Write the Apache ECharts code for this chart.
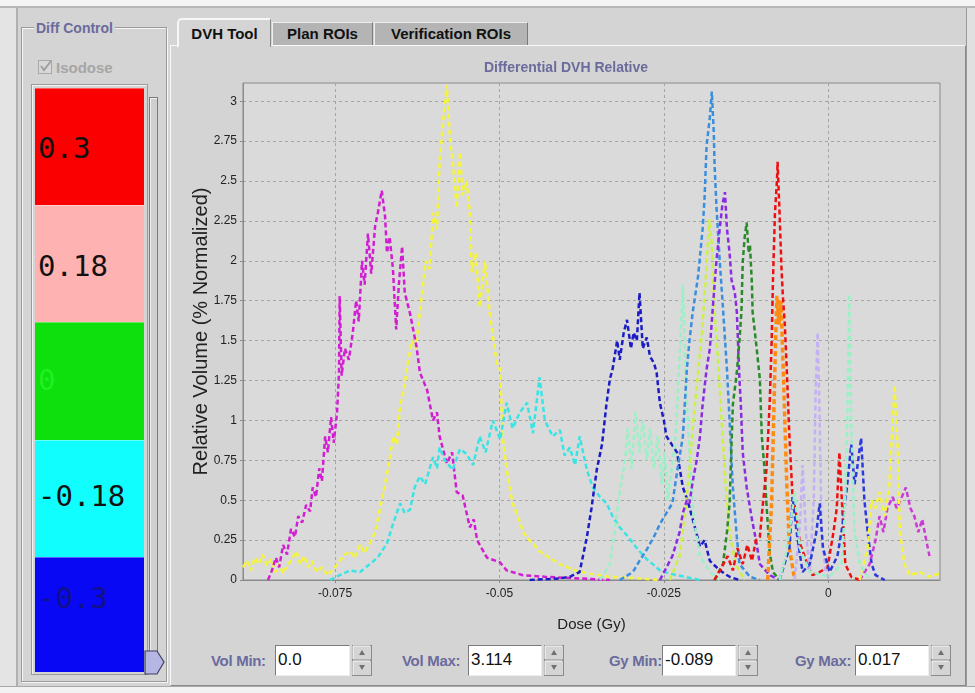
<!DOCTYPE html>
<html>
<head>
<meta charset="utf-8">
<script src="https://cdn.jsdelivr.net/npm/echarts@6/dist/echarts.min.js"></script>
<style>
  body { margin: 0; }
  #app { position: relative; width: 975px; height: 693px; background: #d4d4d4; overflow: hidden;
         font-family: "Liberation Sans", Arial, sans-serif; }
  .abs { position: absolute; box-sizing: border-box; }
  .lbl { font-weight: bold; color: #6b6b9d; font-size: 14px; }
  .tab { font-weight: bold; font-size: 15px; color: #111; text-align: center; }
  .field { background: #fff; border-top: 1px solid #7a7a7a; border-left: 1px solid #7a7a7a;
           border-bottom: 1px solid #eee; border-right: 1px solid #eee;
           font-family: "Liberation Sans Narrow", "Liberation Sans", Arial, sans-serif; font-size: 17px;
           padding: 4px 0 0 2px; color: #111; }
  .blk { font-family: "DejaVu Sans Mono", monospace; font-size: 29px; padding-left: 3px; }
  #chart { position: absolute; left: 0; top: 0; width: 975px; height: 693px; }
</style>
</head>
<body>
<div id="app">
  <div class="abs" style="left:0;top:0;width:975px;height:8px;background:#f4f4f4;border-bottom:2px solid #b8b8b8"></div>
  <div class="abs" style="left:0;top:8px;width:18px;height:685px;background:#e4e4e4;border-right:2px solid #b0b0b0"></div>
  <div class="abs" style="left:0;top:686px;width:975px;height:7px;background:#f2f2f2;border-top:1px solid #a8a8a8"></div>
  <div class="abs" style="left:966px;top:8px;width:9px;height:678px;background:#e0e0e0;border-left:1px solid #9a9a9a"></div>

  <!-- Diff Control -->
  <div class="abs" style="left:21px;top:27px;width:146px;height:655px;border:1px solid #9a9a9a;box-shadow:inset 1px 1px 0 #f6f6f6, 1px 1px 0 #f6f6f6"></div>
  <div class="abs lbl" style="left:34px;top:20px;padding:0 2px;background:#d4d4d4;font-size:14px">Diff Control</div>
  <div class="abs" style="left:38px;top:60px;width:14px;height:14px;border:1px solid #a8a8a8;background:#d8d8d8"></div>
  <svg class="abs" style="left:38px;top:58px" width="16" height="16"><polyline points="3,8 6,12 13,3" fill="none" stroke="#a0a0a0" stroke-width="2"/></svg>
  <div class="abs" style="left:56px;top:59px;font-weight:bold;font-size:15px;color:#a6a6a6">Isodose</div>
  <div class="abs" style="left:31px;top:84px;width:117px;height:591px;border:1px solid #9a9a9a;box-shadow:inset 1px 1px 0 #f4f4f4"></div>
  <div id="blocks"></div>
  <div class="abs" style="left:149px;top:97px;width:9px;height:576px;border:1px solid #7a7a7a;background:#cfcfcf;box-shadow:inset 1px 1px 0 #f0f0f0"></div>
  <svg class="abs" style="left:143px;top:649px" width="24" height="28"><polygon points="2,2 14,2 21,13 14,25 2,25" fill="#b6b6e4" stroke="#404060" stroke-width="1.2"/></svg>

  <!-- tabs -->
  <div class="abs" style="left:170px;top:45px;width:796px;height:641px;border-top:1px solid #f8f8f8;border-left:1px solid #f8f8f8;border-right:1px solid #8a8a8a;border-bottom:1px solid #8a8a8a"></div>
  <div class="abs tab" style="left:177px;top:18px;width:94px;height:29px;background:#d4d4d4;border-top:2px solid #f6f6f6;border-left:2px solid #f6f6f6;border-right:1px solid #8a8a8a;border-top-left-radius:5px;padding-top:5px">DVH Tool</div>
  <div class="abs tab" style="left:272px;top:22px;width:101px;height:23px;background:#b4b4b4;border-top:1px solid #eeeeee;border-left:1px solid #eeeeee;border-right:1px solid #7a7a7a;padding-top:2px">Plan ROIs</div>
  <div class="abs tab" style="left:374px;top:22px;width:154px;height:23px;background:#b4b4b4;border-top:1px solid #eeeeee;border-left:1px solid #eeeeee;border-right:1px solid #7a7a7a;padding-top:2px">Verification ROIs</div>

  <div id="controls"></div>
  <div id="chart"></div>
</div>
<script>
// ---- data (dose in Gy, relative volume) ----
const xTicks = [-0.075, -0.05, -0.025, 0];
const yTicks = [0, 0.25, 0.5, 0.75, 1, 1.25, 1.5, 1.75, 2, 2.25, 2.5, 2.75, 3];
const diffLevels = ['0.3', '0.18', '0', '-0.18', '-0.3'];
const diffColors = ['#fb0000', '#ffb2b2', '#0ee00e', '#10fefe', '#0808f4'];
const diffTextColors = ['#111', '#111', '#22ee22', '#111', '#10108a'];
const controlLabels = ['Vol Min:', 'Vol Max:', 'Gy Min:', 'Gy Max:'];
const controlValues = ['0.0', '3.114', '-0.089', '0.017'];

const yellow = [[-0.0890,0.08],[-0.0884,0.12],[-0.0878,0.06],[-0.0872,0.14],[-0.0866,0.1],[-0.0860,0.16],[-0.0854,0.09],[-0.0847,0.13],[-0.0841,0.05],[-0.0835,0.1],[-0.0829,0.04],[-0.0823,0.09],[-0.0817,0.12],[-0.0809,0.18],[-0.0803,0.1],[-0.0797,0.15],[-0.0791,0.08],[-0.0785,0.12],[-0.0778,0.05],[-0.0770,0.08],[-0.0761,0.03],[-0.0752,0.07],[-0.0743,0.12],[-0.0735,0.16],[-0.0727,0.18],[-0.0720,0.14],[-0.0712,0.22],[-0.0705,0.17],[-0.0697,0.23],[-0.0689,0.3],[-0.0682,0.44],[-0.0674,0.6],[-0.0667,0.75],[-0.0662,0.9],[-0.0656,0.85],[-0.0651,1.1],[-0.0645,1.2],[-0.0641,1.32],[-0.0633,1.5],[-0.0627,1.45],[-0.0621,1.68],[-0.0612,2.0],[-0.0606,1.95],[-0.0601,2.3],[-0.0595,2.2],[-0.0591,2.62],[-0.0585,2.9],[-0.0580,3.1],[-0.0575,2.75],[-0.0571,2.62],[-0.0565,2.33],[-0.0560,2.68],[-0.0556,2.41],[-0.0550,2.5],[-0.0545,2.3],[-0.0542,1.93],[-0.0536,2.05],[-0.0530,1.71],[-0.0522,2.0],[-0.0515,1.68],[-0.0509,1.5],[-0.0504,1.36],[-0.0499,1.32],[-0.0495,0.9],[-0.0489,0.69],[-0.0480,0.48],[-0.0472,0.4],[-0.0464,0.3],[-0.0457,0.26],[-0.0449,0.23],[-0.0439,0.18],[-0.0428,0.15],[-0.0408,0.1],[-0.0385,0.06],[-0.0363,0.04],[-0.0332,0.02],[-0.0287,0.01],[-0.0256,0]];
const magenta = [[-0.0852,0],[-0.0846,0.06],[-0.0840,0.14],[-0.0835,0.08],[-0.0829,0.22],[-0.0823,0.16],[-0.0817,0.32],[-0.0811,0.27],[-0.0806,0.4],[-0.0800,0.36],[-0.0794,0.47],[-0.0788,0.43],[-0.0784,0.58],[-0.0779,0.52],[-0.0774,0.7],[-0.0770,0.62],[-0.0765,0.9],[-0.0761,0.8],[-0.0756,1.02],[-0.0752,0.86],[-0.0747,1.05],[-0.0744,1.3],[-0.0743,1.78],[-0.0740,1.28],[-0.0735,1.45],[-0.0729,1.38],[-0.0723,1.55],[-0.0718,1.75],[-0.0714,1.62],[-0.0709,2.0],[-0.0705,1.85],[-0.0700,2.17],[-0.0695,1.92],[-0.0689,2.22],[-0.0685,2.3],[-0.0679,2.44],[-0.0674,2.28],[-0.0671,2.05],[-0.0667,2.15],[-0.0662,1.95],[-0.0657,1.57],[-0.0653,1.85],[-0.0648,2.09],[-0.0644,1.8],[-0.0636,1.67],[-0.0626,1.46],[-0.0621,1.3],[-0.0610,1.19],[-0.0601,1.0],[-0.0595,1.05],[-0.0591,0.9],[-0.0580,0.73],[-0.0572,0.8],[-0.0565,0.55],[-0.0556,0.53],[-0.0545,0.33],[-0.0539,0.38],[-0.0534,0.25],[-0.0519,0.14],[-0.0499,0.11],[-0.0489,0.06],[-0.0464,0.03],[-0.0431,0.02],[-0.0378,0.01],[-0.0332,0]];
const cyan = [[-0.0758,0],[-0.0743,0.03],[-0.0727,0.06],[-0.0712,0.05],[-0.0697,0.1],[-0.0685,0.14],[-0.0671,0.23],[-0.0662,0.35],[-0.0651,0.48],[-0.0644,0.42],[-0.0636,0.44],[-0.0629,0.58],[-0.0621,0.65],[-0.0613,0.6],[-0.0601,0.77],[-0.0595,0.7],[-0.0591,0.83],[-0.0583,0.75],[-0.0571,0.69],[-0.0560,0.82],[-0.0550,0.79],[-0.0540,0.72],[-0.0530,0.9],[-0.0521,0.8],[-0.0510,1.0],[-0.0499,0.88],[-0.0489,1.11],[-0.0480,0.95],[-0.0469,1.05],[-0.0458,1.11],[-0.0449,0.92],[-0.0439,1.27],[-0.0431,1.0],[-0.0419,0.9],[-0.0408,0.94],[-0.0401,0.78],[-0.0393,0.83],[-0.0385,0.72],[-0.0378,0.9],[-0.0367,0.69],[-0.0358,0.58],[-0.0347,0.52],[-0.0337,0.48],[-0.0328,0.4],[-0.0317,0.33],[-0.0306,0.28],[-0.0297,0.23],[-0.0287,0.18],[-0.0276,0.13],[-0.0264,0.09],[-0.0256,0.06],[-0.0241,0.04],[-0.0218,0.02],[-0.0195,0]];
const navy = [[-0.0454,0],[-0.0408,0.01],[-0.0393,0.02],[-0.0378,0.05],[-0.0367,0.27],[-0.0360,0.45],[-0.0352,0.69],[-0.0344,0.85],[-0.0337,1.11],[-0.0332,1.26],[-0.0328,1.32],[-0.0321,1.5],[-0.0317,1.38],[-0.0311,1.55],[-0.0306,1.63],[-0.0300,1.45],[-0.0296,1.55],[-0.0291,1.5],[-0.0287,1.8],[-0.0282,1.45],[-0.0276,1.52],[-0.0271,1.4],[-0.0265,1.36],[-0.0261,1.3],[-0.0256,1.11],[-0.0250,1.0],[-0.0246,0.9],[-0.0238,0.85],[-0.0230,0.8],[-0.0221,0.58],[-0.0214,0.5],[-0.0206,0.38],[-0.0195,0.21],[-0.0188,0.25],[-0.0180,0.12],[-0.0165,0.06],[-0.0150,0.02],[-0.0135,0]];
const mint = [[-0.0347,0],[-0.0332,0.1],[-0.0325,0.3],[-0.0317,0.55],[-0.0309,0.75],[-0.0305,0.95],[-0.0299,0.7],[-0.0293,1.05],[-0.0287,0.8],[-0.0282,1.0],[-0.0276,0.75],[-0.0271,0.95],[-0.0265,0.7],[-0.0259,0.9],[-0.0253,0.6],[-0.0249,0.8],[-0.0244,0.5],[-0.0238,0.7],[-0.0232,0.9],[-0.0226,1.4],[-0.0221,1.85],[-0.0217,1.3],[-0.0211,0.8],[-0.0205,0.4],[-0.0195,0.15],[-0.0180,0.05],[-0.0165,0]];
const mintRight = [[-0.0074,0],[-0.0065,0.15],[-0.0059,0.3],[-0.0051,0.55],[-0.0043,0.2],[-0.0028,0.05],[0.0002,0.02],[0.0020,0.1],[0.0025,0.4],[0.0029,1.0],[0.0032,1.79],[0.0035,1.0],[0.0040,0.3],[0.0048,0.1],[0.0063,0]];
const steel = [[-0.0317,0],[-0.0297,0.05],[-0.0287,0.12],[-0.0276,0.19],[-0.0264,0.28],[-0.0256,0.35],[-0.0246,0.42],[-0.0237,0.48],[-0.0229,0.7],[-0.0221,0.9],[-0.0215,1.32],[-0.0211,1.5],[-0.0206,1.68],[-0.0198,1.9],[-0.0191,2.2],[-0.0188,2.4],[-0.0185,2.72],[-0.0180,2.9],[-0.0177,3.06],[-0.0174,2.8],[-0.0173,2.62],[-0.0170,2.34],[-0.0165,2.0],[-0.0160,1.7],[-0.0154,1.32],[-0.0150,1.0],[-0.0145,0.58],[-0.0139,0.27],[-0.0135,0.1],[-0.0119,0.02],[-0.0104,0]];
const yellowGreen = [[-0.0241,0],[-0.0226,0.15],[-0.0218,0.4],[-0.0211,0.7],[-0.0205,1.0],[-0.0198,1.3],[-0.0192,1.55],[-0.0186,1.9],[-0.0181,2.26],[-0.0177,2.1],[-0.0173,1.7],[-0.0168,1.4],[-0.0162,1.0],[-0.0156,0.6],[-0.0150,0.3],[-0.0141,0.1],[-0.0127,0]];
const violet = [[-0.0256,0],[-0.0237,0.15],[-0.0226,0.3],[-0.0221,0.42],[-0.0215,0.5],[-0.0211,0.48],[-0.0206,0.62],[-0.0200,0.75],[-0.0195,0.9],[-0.0191,1.1],[-0.0185,1.32],[-0.0180,1.45],[-0.0176,1.68],[-0.0170,2.0],[-0.0165,2.2],[-0.0161,2.35],[-0.0157,2.43],[-0.0154,2.2],[-0.0150,2.05],[-0.0147,1.88],[-0.0142,1.8],[-0.0139,1.68],[-0.0135,1.26],[-0.0133,1.11],[-0.0130,0.8],[-0.0124,0.58],[-0.0116,0.38],[-0.0109,0.23],[-0.0104,0.1],[-0.0089,0.03],[-0.0074,0]];
const green = [[-0.0173,0],[-0.0160,0.1],[-0.0154,0.3],[-0.0150,0.48],[-0.0145,1.1],[-0.0139,1.3],[-0.0135,1.5],[-0.0132,1.68],[-0.0130,1.99],[-0.0127,2.15],[-0.0124,2.24],[-0.0121,2.05],[-0.0119,2.1],[-0.0116,1.85],[-0.0115,1.68],[-0.0109,1.46],[-0.0104,1.26],[-0.0101,0.9],[-0.0097,0.7],[-0.0094,0.48],[-0.0089,0.17],[-0.0084,0.05],[-0.0074,0]];
const orange = [[-0.0092,0],[-0.0086,0.5],[-0.0083,1.0],[-0.0080,1.5],[-0.0078,1.78],[-0.0075,1.6],[-0.0072,1.75],[-0.0069,1.4],[-0.0066,1.0],[-0.0063,0.6],[-0.0059,0.2],[-0.0051,0]];
const red = [[-0.0173,0],[-0.0162,0.08],[-0.0153,0.15],[-0.0145,0.06],[-0.0138,0.2],[-0.0130,0.1],[-0.0123,0.22],[-0.0116,0.12],[-0.0110,0.25],[-0.0104,0.27],[-0.0100,0.45],[-0.0094,0.69],[-0.0089,1.11],[-0.0086,1.5],[-0.0084,1.88],[-0.0081,2.3],[-0.0078,2.5],[-0.0077,2.62],[-0.0074,2.3],[-0.0071,1.95],[-0.0069,1.78],[-0.0066,1.6],[-0.0063,1.32],[-0.0060,1.0],[-0.0059,0.9],[-0.0054,0.5],[-0.0050,0.45],[-0.0043,0.23],[-0.0036,0.15],[-0.0028,0.06],[-0.0024,0.03],[-0.0013,0.05],[-0.0001,0.08],[0.0008,0.3],[0.0013,0.45],[0.0017,0.8],[0.0022,0.4],[0.0026,0.1],[0.0035,0.02],[0.0048,0]];
const lavender = [[-0.0051,0],[-0.0043,0.35],[-0.0039,0.72],[-0.0034,0.3],[-0.0028,0.05],[-0.0022,0.5],[-0.0019,1.2],[-0.0016,1.55],[-0.0013,1.0],[-0.0010,0.3],[-0.0004,0.05],[0.0002,0]];
const blueRight = [[-0.0074,0],[-0.0059,0.2],[-0.0054,0.52],[-0.0048,0.3],[-0.0039,0.05],[-0.0028,0.1],[-0.0018,0.3],[-0.0013,0.48],[-0.0008,0.2],[0.0002,0.05],[0.0014,0.15],[0.0022,0.35],[0.0029,0.6],[0.0035,0.85],[0.0040,0.6],[0.0044,0.7],[0.0050,0.89],[0.0055,0.5],[0.0060,0.3],[0.0066,0.1],[0.0072,0.03],[0.0086,0]];
const magentaRight = [[0.0048,0],[0.0063,0.1],[0.0072,0.25],[0.0078,0.4],[0.0084,0.3],[0.0090,0.45],[0.0098,0.52],[0.0104,0.45],[0.0110,0.5],[0.0118,0.58],[0.0125,0.45],[0.0131,0.4],[0.0137,0.3],[0.0143,0.38],[0.0149,0.25],[0.0154,0.15]];
const yellowRight = [[0.0048,0],[0.0055,0.12],[0.0060,0.2],[0.0066,0.5],[0.0072,0.45],[0.0078,0.55],[0.0086,0.4],[0.0093,0.6],[0.0098,1.0],[0.0101,1.22],[0.0106,0.8],[0.0109,0.3],[0.0116,0.1],[0.0124,0.03],[0.0139,0.05],[0.0154,0.02],[0.0169,0.04]];

// ---- side panel + bottom controls ----
const blockTops = [88, 205, 322, 440, 557];
const blockHeights = [117, 117, 118, 117, 115];
const textTops = [131, 249, 363, 479, 581];
let html = '';
diffLevels.forEach((t, i) => {
  html += `<div class="abs" style="left:35px;top:${blockTops[i]}px;width:109px;height:${blockHeights[i]}px;background:${diffColors[i]};border-top:1px solid rgba(255,255,255,0.35)"></div>`;
  html += `<div class="abs blk" style="left:35px;top:${textTops[i]}px;color:${diffTextColors[i]}">${t}</div>`;
});
document.getElementById('blocks').innerHTML = html;

const ctlLabelX = [211, 402, 609, 795];
const ctlFieldX = [275, 468, 662, 855];
const ctlFieldW = [75, 74, 74, 74];
let ch = '';
controlLabels.forEach((t, i) => {
  ch += `<div class="abs lbl" style="left:${ctlLabelX[i]}px;top:652px;font-size:15px;letter-spacing:-0.3px">${t}</div>`;
  ch += `<div class="abs field" style="left:${ctlFieldX[i]}px;top:645px;width:${ctlFieldW[i]}px;height:31px">${controlValues[i]}</div>`;
  const sx = ctlFieldX[i] + ctlFieldW[i] + 2;
  ch += `<svg class="abs" style="left:${sx}px;top:645px" width="20" height="31">
    <rect x="0.5" y="0.5" width="19" height="14.5" fill="#d4d4d4" stroke="#8a8a8a"/>
    <line x1="1" y1="1" x2="18" y2="1" stroke="#fafafa"/><line x1="1" y1="1" x2="1" y2="14" stroke="#fafafa"/>
    <rect x="0.5" y="15.5" width="19" height="15" fill="#d4d4d4" stroke="#8a8a8a"/>
    <line x1="1" y1="16" x2="18" y2="16" stroke="#fafafa"/><line x1="1" y1="16" x2="1" y2="30" stroke="#fafafa"/>
    <polygon points="7,10 13,10 10,5" fill="#707070"/><polygon points="7,20 13,20 10,25" fill="#707070"/></svg>`;
});
document.getElementById('controls').innerHTML = ch;

// ---- chart ----
const chart = echarts.init(document.getElementById('chart'));
const seriesDefs = [
  ['yellow', yellow, '#f4f43a', 2.5],
  ['magenta', magenta, '#d21ed2', 2.5],
  ['cyan', cyan, '#38e4e4', 2.5],
  ['navy', navy, '#1c1cc4', 2.5],
  ['mint', mint, '#9cf0c6', 2.5],
  ['steel', steel, '#3a8ede', 2.5],
  ['yellowGreen', yellowGreen, '#cdf048', 2.5],
  ['violet', violet, '#8a2be2', 2.5],
  ['green', green, '#2a8a2a', 2.5],
  ['orange', orange, '#ff8c10', 3.5],
  ['red', red, '#ee1010', 2.5],
  ['lavender', lavender, '#c4b0f5', 2.5],
  ['blueRight', blueRight, '#2a38dc', 2.5],
  ['magentaRight', magentaRight, '#cc3ad6', 2.5],
  ['yellowRight', yellowRight, '#f4f43a', 2.5],
  ['mintRight', mintRight, '#9cf0c6', 2.5]
];
const font = '"Liberation Sans", Arial, sans-serif';
chart.setOption({
  animation: false,
  title: {
    text: 'Differential DVH Relative', left: 566, top: 61, textAlign: 'center', padding: 0,
    textStyle: { color: '#6b6b9d', fontSize: 14, fontWeight: 'bold', fontFamily: font }
  },
  grid: { left: 243, top: 83, width: 697, height: 497, show: true, backgroundColor: '#dadada', borderColor: '#8a8a8a', borderWidth: 1 },
  xAxis: {
    type: 'value', min: -0.089, max: 0.017,
    name: 'Dose (Gy)', nameLocation: 'middle', nameGap: 37,
    nameTextStyle: { color: '#222', fontSize: 15, fontFamily: font },
    axisLine: { show: true, onZero: false, lineStyle: { color: '#8a8a8a' } },
    axisTick: { show: true, length: 3, customValues: xTicks, lineStyle: { color: '#8a8a8a' } },
    axisLabel: { customValues: xTicks, color: '#222', fontSize: 12, fontFamily: font, margin: 8,
                 formatter: v => (v === 0 ? '0' : String(v)) },
    splitLine: { show: true, lineStyle: { type: [3, 3], color: '#a4a4a4' } }
  },
  yAxis: {
    type: 'value', min: 0, max: 3.114,
    name: 'Relative Volume (% Normalized)', nameLocation: 'middle', nameGap: 32, nameMoveOverlap: false,
    nameTextStyle: { color: '#222', fontSize: 20, fontFamily: font },
    axisLine: { show: true, onZero: false, lineStyle: { color: '#8a8a8a' } },
    axisTick: { show: true, length: 3, customValues: yTicks, lineStyle: { color: '#8a8a8a' } },
    axisLabel: { customValues: yTicks, color: '#222', fontSize: 12, fontFamily: font, margin: 6 },
    splitLine: { show: true, lineStyle: { type: [3, 3], color: '#a4a4a4' } }
  },
  series: seriesDefs.map(([name, data, color, w]) => ({
    name, type: 'line', data, showSymbol: false, symbol: 'none', clip: true,
    lineStyle: { color, width: w, type: [5, 3] }
  }))
});
</script>
</body>
</html>
